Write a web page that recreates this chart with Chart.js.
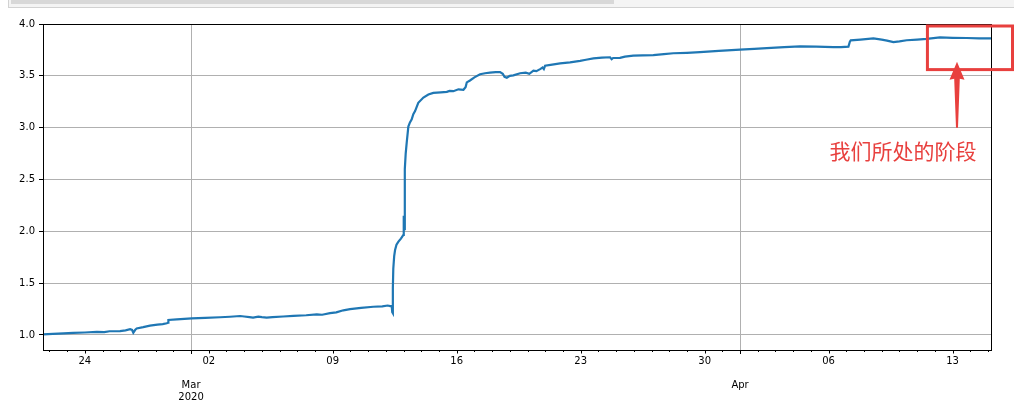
<!DOCTYPE html>
<html>
<head>
<meta charset="utf-8">
<script src="https://cdn.jsdelivr.net/npm/chart.js@4.4.0/dist/chart.umd.min.js"></script>
<style>
  body { margin: 0; background: #fff; }
  #wrap { position: relative; width: 1014px; height: 413px; overflow: hidden; }
  .bar { position: absolute; left: 8px; top: -2px; width: 1010px; height: 8px; border: 1px solid #d2d2d2; background: #f4f4f4; }
  .thumb { position: absolute; left: 2px; top: 1px; width: 603px; height: 4px; background: #d8d8d8; }
</style>
</head>
<body>
<div id="wrap">
  <canvas id="line-chart"></canvas>
  <div class="bar"><div class="thumb"></div></div>
</div>
<script>
// x = days counted from 1 Mar 2020 00:00
const days = [
  -8.36, -7.8, -7.2, -6.65, -6.0, -5.32, -4.9, -4.6, -4.01, -3.7, -3.44, -3.33, -3.26, -3.15, -3.07,
  -2.7, -2.32, -1.9, -1.6, -1.37, -1.30, -1.28, -0.8, 0.04, 0.8, 1.64, 2.2, 2.77, 3.0, 3.3, 3.5,
  3.8, 4.0, 4.27, 4.6, 5.2, 5.78, 6.5, 7.10, 7.4, 7.85, 8.2, 8.6, 8.98, 9.6, 10.29, 10.8, 11.1,
  11.24, 11.33, 11.36, 11.39, 11.40, 11.42, 11.47, 11.52, 11.6, 11.71, 11.85, 11.99, 12.01, 12.03,
  12.06, 12.08, 12.12, 12.18, 12.27, 12.36, 12.46, 12.55, 12.65, 12.83, 13.12, 13.4, 13.68, 14.1,
  14.44, 14.6, 14.81, 15.1, 15.38, 15.5, 15.57, 15.75, 16.0, 16.32, 16.6, 16.88, 17.2, 17.45, 17.6,
  17.7, 17.83, 18.0, 18.2, 18.58, 18.9, 19.1, 19.33, 19.5, 19.71, 19.85, 19.92, 19.99, 20.3, 20.84,
  21.4, 21.97, 22.3, 22.72, 23.2, 23.66, 23.75, 23.83, 24.22, 24.5, 24.97, 25.5, 26.1, 26.7, 27.23,
  28.0, 28.74, 29.8, 31.0, 31.8, 32.51, 33.5, 34.39, 35.3, 36.27, 36.7, 37.12, 37.2, 37.25, 37.8,
  38.53, 39.0, 39.3, 39.66, 40.0, 40.41, 41.0, 41.54, 42.29, 43.0, 43.8, 44.5, 45.17
];
const ratio = [
  1.005, 1.010, 1.015, 1.020, 1.024, 1.030, 1.028, 1.036, 1.038, 1.045, 1.055, 1.048, 1.022, 1.050, 1.062,
  1.075, 1.090, 1.100, 1.105, 1.113, 1.118, 1.145, 1.150, 1.160, 1.165, 1.171, 1.176, 1.183, 1.178, 1.172, 1.168,
  1.176, 1.172, 1.168, 1.172, 1.178, 1.184, 1.190, 1.198, 1.195, 1.210, 1.218, 1.238, 1.250, 1.262, 1.272, 1.276, 1.284,
  1.278, 1.280, 1.220, 1.210, 1.450, 1.640, 1.760, 1.820, 1.870, 1.900, 1.930, 1.965, 2.150, 2.020,
  2.300, 2.600, 2.750, 2.860, 3.010, 3.050, 3.080, 3.130, 3.160, 3.240, 3.290, 3.320, 3.335, 3.340,
  3.345, 3.355, 3.352, 3.370, 3.365, 3.390, 3.437, 3.455, 3.485, 3.515, 3.525, 3.530, 3.535, 3.537, 3.520,
  3.490, 3.482, 3.500, 3.505, 3.525, 3.530, 3.520, 3.550, 3.545, 3.565, 3.580, 3.565, 3.597, 3.605, 3.620,
  3.630, 3.645, 3.655, 3.668, 3.675, 3.679, 3.660, 3.672, 3.674, 3.685, 3.694, 3.697, 3.700, 3.710, 3.718,
  3.722, 3.728, 3.740, 3.752, 3.760, 3.767, 3.777, 3.784, 3.782, 3.777, 3.777, 3.782, 3.830, 3.842, 3.850,
  3.862, 3.850, 3.840, 3.825, 3.832, 3.843, 3.850, 3.856, 3.870, 3.867, 3.865, 3.862, 3.862
];
const weekTickDays = [-6, 1, 8, 15, 22, 29, 36, 43];
const weekTickLabels = ['24', '02', '09', '16', '23', '30', '06', '13'];
const monthTickDays = [0, 31];
const monthTickLabels = [['Mar', '2020'], ['Apr']];
const yTicks = [1.0, 1.5, 2.0, 2.5, 3.0, 3.5, 4.0];
const noteText = '我们所处的阶段';

Chart.defaults.font.family = 'DejaVu Sans';
Chart.defaults.font.size = 10;
Chart.defaults.color = '#000';

const red = '#e8403e';

const extras = {
  id: 'extras',
  afterDraw(chart) {
    const { ctx, chartArea: a, scales: { x, y } } = chart;
    ctx.save();
    ctx.strokeStyle = '#000';
    ctx.lineWidth = 1;
    // x tick marks
    x.ticks.forEach(t => {
      let len = monthTickDays.includes(t.value) ? 4 : (weekTickDays.includes(t.value) ? 3.5 : 2);
      const px = Math.round(x.getPixelForValue(t.value)) + 0.5;
      ctx.beginPath();
      ctx.moveTo(px, a.bottom);
      ctx.lineTo(px, a.bottom + len);
      ctx.stroke();
    });
    // frame
    ctx.strokeRect(Math.round(a.left) + 0.5, Math.round(a.top) + 0.5,
      Math.round(a.right - a.left), Math.round(a.bottom - a.top));

    // red box
    const bx = x.getPixelForValue(41.58);
    const by = a.top + 2;
    const bb = y.getPixelForValue(3.56);
    ctx.strokeStyle = red;
    ctx.lineWidth = 3;
    ctx.strokeRect(bx, by, chart.width - 1.5 - bx, bb - by);

    // arrow
    const ax = x.getPixelForValue(43.25);
    const tip = y.getPixelForValue(3.635);
    const base = y.getPixelForValue(3.0);
    ctx.fillStyle = red;
    ctx.beginPath();
    ctx.moveTo(ax, tip);
    ctx.lineTo(ax + 7.5, tip + 18);
    ctx.lineTo(ax + 2.8, tip + 17);
    ctx.lineTo(ax + 1, base);
    ctx.lineTo(ax - 1, base);
    ctx.lineTo(ax - 2.8, tip + 17);
    ctx.lineTo(ax - 7.5, tip + 18);
    ctx.closePath();
    ctx.fill();

    // note
    ctx.font = '21px "Noto Sans CJK SC"';
    ctx.textAlign = 'center';
    ctx.textBaseline = 'middle';
    ctx.fillText(noteText, x.getPixelForValue(40.2), y.getPixelForValue(2.775));
    ctx.restore();
  }
};

new Chart(document.getElementById('line-chart'), {
  type: 'line',
  data: {
    datasets: [{
      data: days.map((d, i) => ({ x: d, y: ratio[i] })),
      borderColor: '#1f77b4',
      borderWidth: 2.2,
      pointRadius: 0,
      tension: 0,
      fill: false
    }]
  },
  options: {
    responsive: true,
    maintainAspectRatio: false,
    animation: false,
    layout: { padding: { top: 24, right: 23, left: 0, bottom: 0 } },
    plugins: { legend: { display: false }, tooltip: { enabled: false } },
    scales: {
      x: {
        type: 'linear',
        min: days[0],
        max: days[days.length - 1],
        afterBuildTicks: (s) => {
          const t = [];
          for (let d = Math.ceil(days[0]); d <= Math.floor(days[days.length - 1]); d++) t.push({ value: d });
          s.ticks = t;
        },
        afterFit: (s) => { s.height = 63; },
        border: { display: false },
        grid: {
          drawTicks: false,
          color: (c) => (c.tick && monthTickDays.includes(c.tick.value)) ? '#b0b0b0' : 'rgba(0,0,0,0)',
          lineWidth: 1
        },
        ticks: {
          autoSkip: false,
          maxRotation: 0,
          padding: 5,
          font: { size: 10, lineHeight: 1.2 },
          callback: (v) => {
            let i = monthTickDays.indexOf(v);
            if (i >= 0) return ['', ''].concat(monthTickLabels[i]);
            i = weekTickDays.indexOf(v);
            if (i >= 0) return weekTickLabels[i];
            return '';
          }
        }
      },
      y: {
        min: 0.855,
        max: 4.0,
        afterBuildTicks: (s) => { s.ticks = yTicks.map(v => ({ value: v })); },
        afterFit: (s) => { s.width = 43; },
        border: { display: false },
        grid: { color: '#b0b0b0', tickColor: '#000', tickLength: 4, lineWidth: 1 },
        ticks: { padding: 4, callback: (v) => v.toFixed(1) }
      }
    }
  },
  plugins: [extras]
});
</script>
</body>
</html>
